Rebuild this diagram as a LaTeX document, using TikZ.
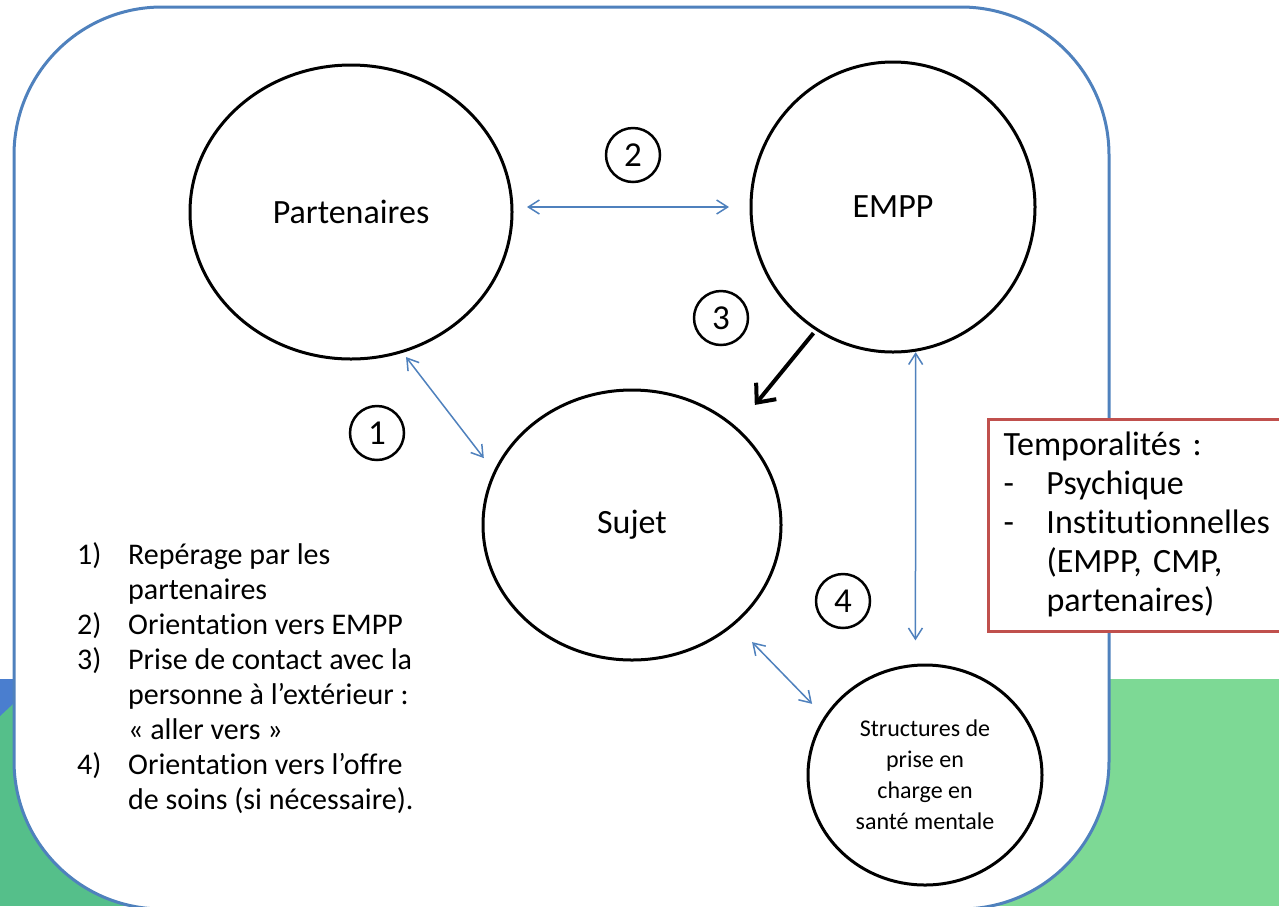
\documentclass[tikz,border=0pt]{standalone}
\usepackage{fontspec}
\setmainfont{Carlito}[Ligatures=NoCommon]
\usetikzlibrary{shapes.geometric,arrows.meta}
\definecolor{frameblue}{HTML}{4F81BD}
\definecolor{bandblue}{HTML}{4A7ECF}
\definecolor{leafdark}{HTML}{55BF8A}
\definecolor{leaflight}{HTML}{7DD995}
\definecolor{boxred}{HTML}{C0504D}
\frenchspacing
\begin{document}
\begin{tikzpicture}[x=1pt, y=-1pt,
    bubble/.style={draw, ellipse, line width=3pt, inner sep=0pt, outer sep=0pt, font=\fontsize{34}{40}\selectfont},
    num/.style={draw, circle, line width=2.5pt, minimum size=54pt, inner sep=0pt, font=\fontsize{35}{36}\selectfont},
    link/.style={frameblue, line width=1.5pt, {Straight Barb[length=11pt,width=14pt]}-{Straight Barb[length=11pt,width=14pt]}},
    push/.style={black, line width=4pt, -{Straight Barb[length=15pt,width=26pt]}}]
    \useasboundingbox (0,0) rectangle (1279,906);
    \fill[leafdark] (0,679) rectangle (640,906);
    \fill[leaflight] (640,679) rectangle (1279,906);
    \fill[bandblue] (0,679) -- (40,679) -- (0,716) -- cycle;
    \draw[frameblue, line width=3pt, fill=white, rounded corners=148pt] (14,7) rectangle (1109,909);
    \node[bubble, minimum width=322pt, minimum height=294pt] (part) at (351,212) {Partenaires};
    \node[bubble, minimum width=284pt, minimum height=290pt] (empp) at (893,207) {EMPP};
    \node[bubble, minimum width=298pt, minimum height=270pt] (sujet) at (632,525) {Sujet};
    \node[bubble, minimum width=234pt, minimum height=220pt, align=center, font=\fontsize{24}{31}\selectfont] (soins) at (925,775) {Structures de\\prise en\\charge en\\santé mentale};
    \node[num] (n1) at (377,433) {1};
    \node[num] (n2) at (633,155) {2};
    \node[num] (n3) at (721,318) {3};
    \node[num] (n4) at (843,601) {4};
    \draw[link, shorten <=15pt, shorten >=22pt] (empp.west -| part.east) -- (empp.west);
    \draw[link, shorten <=7pt, shorten >=18pt] (part.-70) -- (sujet.159);
    \draw[push, shorten <=5pt, shorten >=30pt] (empp.-122.5) -- (sujet.43.5);
    \draw[link, shorten <=2pt, shorten >=25pt] (empp.-81.3) -- (soins.95.2);
    \draw[link, shorten <=26pt, shorten >=19pt] (sujet.-44.2) -- (soins.150.9);
    \node[anchor=north west, inner sep=0pt, font=\fontsize{30}{35}\selectfont] (steps) at (77,540) {%
        \begin{tabular}{@{}p{51pt}@{}l@{}}
        1) & Repérage par les\\
           & partenaires\\
        2) & Orientation vers EMPP\\
        3) & Prise de contact avec la\\
           & personne à l’extérieur :\\
           & « aller vers »\\
        4) & Orientation vers l’offre\\
           & de soins (si nécessaire).
        \end{tabular}};
    \node[draw=boxred, line width=3pt, fill=white, anchor=north west, inner xsep=15pt, inner ysep=0pt, text width=290pt, minimum height=212pt, align=left, font=\fontsize{34}{39}\selectfont] (temps) at (987,418) {%
        \begin{tabular}{@{}p{43pt}@{}l@{}}
        \multicolumn{2}{@{}l@{}}{Temporalités :}\\
        - & Psychique\\
        - & Institutionnelles\\
          & (EMPP, CMP,\\
          & partenaires)
        \end{tabular}};
\end{tikzpicture}
\end{document}
